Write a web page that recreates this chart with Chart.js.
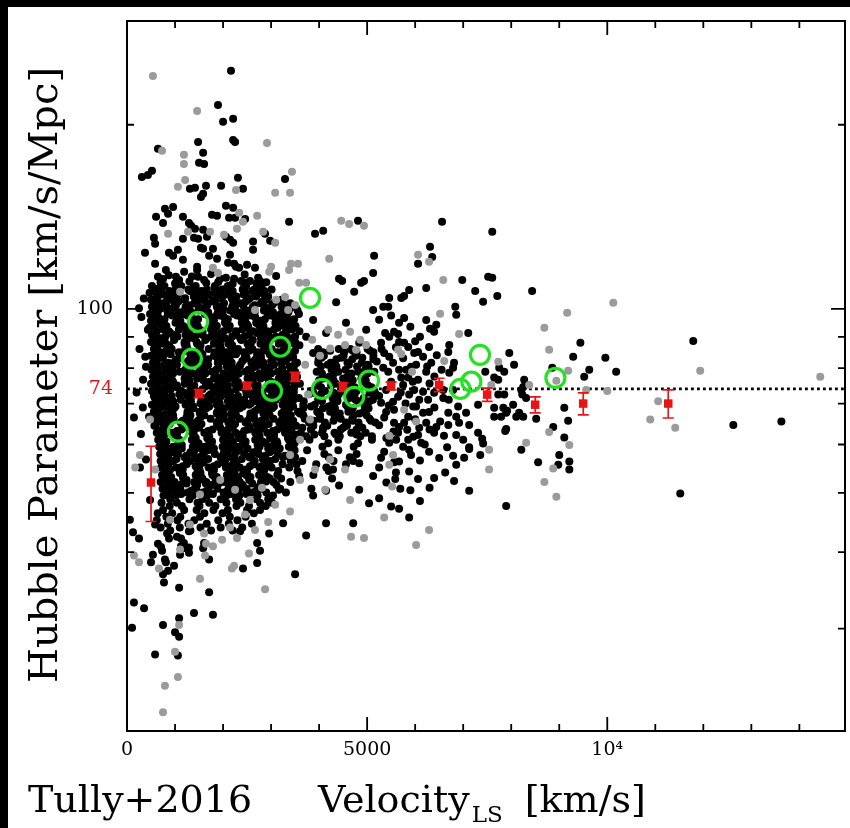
<!DOCTYPE html>
<html>
<head>
<meta charset="utf-8">
<script src="https://cdn.jsdelivr.net/npm/chart.js@4.4.1/dist/chart.umd.min.js"></script>
<style>
  html, body { margin: 0; padding: 0; background: #000; }
  #wrap { position: absolute; left: 8px; top: 7px; width: 842px; height: 821px; background: #fff; }
</style>
</head>
<body>
<div id="wrap"><canvas id="hubble" width="842" height="821"></canvas></div>
<script>
// axis setup
const xMin = 0, xMax = 14950;
const yMin = 20.4, yMax = 295.6;
const xTickVals = [0, 1000, 2000, 3000, 4000, 5000, 6000, 7000, 8000, 9000, 10000, 11000, 12000, 13000, 14000];
const xMajor = [0, 5000, 10000];
const xLabelVals = [0, 5000, 10000];
const xLabels = ['0', '5000', '10\u2074'];
const yTickVals = [30, 40, 50, 60, 70, 74, 80, 90, 100, 200];
const yMajor = [100];
const yLabelVals = [100, 74];
const yLabels = ['100', '74'];
const refH = 74;

// binned means (red squares) with error bars
const binV = [500, 1500, 2500, 3500, 4500, 5500, 6500, 7500, 8500, 9500, 11270];
const binH = [52.0, 72.7, 74.8, 77.4, 74.5, 74.8, 75.1, 72.4, 69.7, 70.0, 70.0];
const binErrHi = [7.6, 1.1, 1.0, 1.3, 1.2, 1.1, 1.9, 1.8, 2.1, 2.9, 3.7];
const binErrLo = [7.1, 1.1, 1.0, 1.3, 1.2, 1.1, 1.9, 1.8, 2.1, 2.9, 3.7];

// green circles
const circV = [3810, 1480, 1350, 3190, 3020, 4060, 4730, 5040, 6940, 7170, 7350, 8920, 1060];
const circH = [104.2, 95.2, 82.9, 86.7, 73.4, 74.0, 71.8, 76.3, 74.0, 76.0, 84.1, 77.1, 63.0];

// dense core of black galaxies, rows of [H, velocities]
const blackRows = [
  [109.0, [520, 780, 1130, 1430, 1830, 2100, 2480, 2800]],
  [107.6, [610, 1010, 1280, 1660, 1980, 2410, 2650, 3010]],
  [106.2, [470, 720, 1090, 1420, 1860, 2120, 2470, 2770]],
  [104.8, [640, 960, 1390, 1630, 1990, 2280, 2690, 2940]],
  [103.5, [500, 940, 1200, 1550, 1850, 2250, 2520, 2900, 3220]],
  [102.1, [700, 990, 1400, 1650, 2020, 2350, 2790, 3050, 3400]],
  [100.8, [520, 820, 1220, 1490, 1870, 2190, 2620, 2860, 3220, 3510]],
  [99.4, [600, 840, 1200, 1490, 1900, 2150, 2520, 2850, 3290, 3550]],
  [98.1, [480, 850, 1180, 1620, 1880, 2230, 2530, 2930, 3200, 3580]],
  [96.9, [650, 1030, 1350, 1780, 2020, 2380, 2670, 3080, 3330]],
  [95.6, [500, 760, 1110, 1410, 1810, 2080, 2460, 2780, 3210, 3450]],
  [94.3, [700, 1100, 1370, 1750, 2070, 2500, 2740, 3100, 3390]],
  [93.1, [470, 790, 1220, 1460, 1820, 2110, 2520, 2770, 3140, 3470]],
  [91.9, [620, 870, 1240, 1570, 2010, 2270, 2620, 2920, 3320, 3590]],
  [90.7, [520, 960, 1220, 1570, 1870, 2270, 2540, 2920, 3240]],
  [89.5, [690, 990, 1390, 1660, 2040, 2360, 2790, 3030, 3390]],
  [88.3, [500, 790, 1200, 1450, 1820, 2150, 2590, 2850, 3200, 3500]],
  [87.2, [640, 880, 1240, 1530, 1940, 2190, 2560, 2890, 3330, 3590]],
  [86.0, [560, 930, 1260, 1700, 1960, 2310, 2610, 3010, 3280, 3980, 4410, 4650, 5010]],
  [84.9, [700, 1080, 1400, 1830, 2070, 2430, 2720, 3130, 3380, 4080, 4520, 4780, 5130]],
  [83.8, [500, 760, 1110, 1410, 1810, 2080, 2460, 2780, 3210, 3450, 4100, 4510, 4760, 5130]],
  [82.7, [640, 1040, 1310, 1690, 2010, 2440, 2680, 3040, 3330, 3990, 4360, 4690, 5130]],
  [81.6, [540, 860, 1290, 1530, 1890, 2180, 2590, 2840, 3210, 3540, 3980, 4240, 4590, 4890]],
  [80.5, [690, 940, 1310, 1640, 2080, 2340, 2690, 2990, 3390, 4040, 4360, 4790, 5030]],
  [79.5, [510, 950, 1210, 1560, 1860, 2260, 2530, 2910, 3230, 4260, 4550, 4960]],
  [78.4, [660, 960, 1360, 1630, 2010, 2330, 2760, 3000, 3360, 4060, 4310, 4680, 5010]],
  [77.4, [540, 830, 1240, 1490, 1860, 2190, 2630, 2890, 3240, 3540, 4210, 4590, 4910]],
  [76.4, [700, 940, 1300, 1590, 2000, 2250, 2620, 2950, 3390, 4000, 4300, 4700, 4970]],
  [75.4, [500, 870, 1200, 1640, 1900, 2250, 2550, 2950, 3220, 3600, 4350, 4590, 4950]],
  [74.4, [660, 1040, 1360, 1790, 2030, 2390, 2680, 3090, 3340, 4040, 4480, 4740, 5090]],
  [73.4, [520, 780, 1130, 1430, 1830, 2100, 2480, 2800, 3230, 3470, 3830, 4120, 4530, 4780, 5150]],
  [72.5, [690, 1090, 1360, 1740, 2060, 2490, 2730, 3090, 3380, 3790, 4040, 4410, 4740, 5180]],
  [71.5, [580, 900, 1330, 1570, 1930, 2220, 2630, 2880, 3250, 3580, 4020, 4280, 4630, 4930]],
  [70.6, [710, 960, 1330, 1660, 2100, 2360, 2710, 3010, 3410, 3680, 4060, 4380, 4810, 5050]],
  [69.7, [520, 960, 1220, 1570, 1870, 2270, 2540, 2920, 3240, 3670, 3910, 4270, 4560, 4970]],
  [68.8, [680, 980, 1380, 1650, 2030, 2350, 2780, 3020, 3380, 3670, 4080, 4330, 4700, 5030]],
  [67.9, [560, 850, 1260, 1510, 1880, 2210, 2650, 2910, 3260, 3560, 3960, 4230, 4610, 4930]],
  [67.0, [720, 960, 1320, 1610, 2020, 2270, 2640, 2970, 3410, 3670, 4020, 4320, 4720, 4990]],
  [66.1, [600, 970, 1300, 1740, 2000, 2350, 2650, 3050, 3320, 3700, 4020, 4450, 4690, 5050]],
  [65.2, [740, 1120, 1440, 1870, 2110, 2470, 2760, 3170, 3420, 3790, 4120, 4560, 4820, 5170]],
  [64.4, [570, 830, 1180, 1480, 1880, 2150, 2530, 2850, 3280, 3520, 3880, 4170, 4580, 4830]],
  [63.5, [730, 1130, 1400, 1780, 2100, 2530, 2770, 3130, 3420, 3830, 4080, 4450, 4780]],
  [62.7, [620, 940, 1370, 1610, 1970, 2260, 2670, 2920, 3290, 3620, 4060, 4320, 4670, 4970]],
  [61.9, [760, 1010, 1380, 1710, 2150, 2410, 2760, 3060, 3460, 3730, 4110, 4430, 4860, 5100]],
  [61.1, [650, 1090, 1350, 1700, 2000, 2400, 2670, 3050, 3370, 3800, 4400, 5100]],
  [60.3, [790, 1090, 1490, 1760, 2140, 2460, 2890, 3130, 3490, 4190, 4810]],
  [59.5, [670, 960, 1370, 1620, 1990, 2320, 2760, 3020, 3370, 4070, 4720]],
  [58.7, [800, 1040, 1400, 1690, 2100, 2350, 2720, 3050, 3490, 3750, 4400]],
  [57.9, [690, 1060, 1390, 1830, 2090, 2440, 2740, 3140, 3410, 4110, 4780]],
  [57.2, [820, 1200, 1520, 1950, 2190, 2550, 2840, 3250, 3500, 4200, 4640]],
  [56.4, [700, 960, 1310, 1610, 2010, 2280, 2660, 2980, 3410, 3650, 4300, 4710]],
  [55.7, [840, 1240, 1510, 1890, 2210, 2640, 2880, 3240, 3530, 3940, 4560]],
  [55.0, [710, 1030, 1460, 1700, 2060, 2350, 2760, 3010, 3380, 4150]],
  [54.3, [850, 1100, 1470, 1800, 2240, 2500, 2850, 3150, 3550, 4200]],
  [53.5, [730, 1170, 1430, 1780, 2080, 2480, 2750, 3130, 3880]],
  [52.8, [870, 1170, 1570, 1840, 2220, 2540, 2970, 3210, 4270]],
  [52.1, [700, 990, 1400, 1650, 2020, 2350, 2790, 3050, 3400]],
  [51.5, [860, 1100, 1460, 1750, 2160, 2410, 2780, 3110]],
  [50.8, [740, 1110, 1440, 1880, 2140, 2490, 2790, 3190, 3840]],
  [50.1, [880, 1260, 1580, 2010, 2250, 2610, 2900, 3310]],
  [49.5, [760, 1020, 1370, 1670, 2070, 2340, 2720, 3040]],
  [48.8, [900, 1300, 1570, 1950, 2270, 2700, 2940]],
  [48.2, [720, 1040, 1470, 1710, 2070, 2360, 2770, 3020]],
  [47.6, [890, 1140, 1510, 1840, 2280, 2540, 2890]],
  [46.9, [750, 1190, 1450, 1800, 2100, 2500, 2770]],
  [46.3, [640, 940, 1610, 1990, 2640]],
  [45.7, [820, 1110, 1520, 2140, 2470]],
  [45.1, [620, 1050, 1400, 1900, 2300]],
  [44.5, [850, 1280, 1660, 2120, 2600]],
  [43.9, [700, 1100, 1530, 1950, 2400]],
  [43.4, [900, 1320, 1750, 2200]]
];

// extra black galaxies filling the crowded core, rows of [H, velocities]
const coreFill = [
  [108.3, [680, 1050, 1380, 1820, 2080, 2430, 2730]],
  [106.9, [560, 880, 1310, 1550, 1910, 2200, 2610, 2860]],
  [105.5, [760, 1060, 1460, 1730, 2110, 2430, 2860]],
  [104.1, [600, 860, 1210, 1510, 1910, 2180, 2560, 2880]],
  [102.8, [820, 1070, 1440, 1770, 2210, 2470, 2820, 3120]],
  [101.4, [620, 1020, 1290, 1670, 1990, 2420, 2660, 3020, 3310]],
  [100.1, [700, 940, 1300, 1590, 2000, 2250, 2620, 2950, 3390]],
  [98.7, [640, 1080, 1340, 1690, 1990, 2390, 2660, 3040, 3360]],
  [97.5, [560, 940, 1260, 1690, 1930, 2290, 2580, 2990, 3240]],
  [96.2, [780, 1070, 1480, 1730, 2100, 2430, 2870, 3130, 3480]],
  [94.9, [640, 1010, 1340, 1780, 2040, 2390, 2690, 3090, 3360]],
  [93.7, [560, 820, 1170, 1470, 1870, 2140, 2520, 2840, 3270, 3510]],
  [92.5, [760, 1080, 1510, 1750, 2110, 2400, 2810, 3060, 3430]],
  [91.3, [600, 900, 1300, 1570, 1950, 2270, 2700, 2940, 3300]],
  [90.1, [800, 1050, 1420, 1750, 2190, 2450, 2800, 3100, 3500]],
  [88.9, [580, 980, 1250, 1630, 1950, 2380, 2620, 2980, 3270]],
  [87.7, [760, 1200, 1460, 1810, 2110, 2510, 2780, 3160, 3480]],
  [86.6, [620, 860, 1220, 1510, 1920, 2170, 2540, 2870, 3310]],
  [85.4, [820, 1200, 1520, 1950, 2190, 2550, 2840, 3250, 3500, 4230, 4700, 5060]],
  [84.3, [620, 910, 1320, 1570, 1940, 2270, 2710, 2970, 3320]],
  [83.2, [740, 1110, 1440, 1880, 2140, 2490, 2790, 3190, 3460, 4050, 4460, 4900]],
  [82.1, [600, 1000, 1270, 1650, 1970, 2400, 2640, 3000, 3290]],
  [81.0, [780, 1040, 1390, 1690, 2090, 2360, 2740, 3060, 3490, 4180, 4620, 5010]],
  [80.0, [560, 880, 1310, 1550, 1910, 2200, 2610, 2860, 3230]],
  [78.9, [800, 1100, 1500, 1770, 2150, 2470, 2900, 3140, 3500, 3950, 4400, 4820, 5150]],
  [77.9, [620, 870, 1240, 1570, 2010, 2270, 2620, 2920, 3320]],
  [76.9, [760, 1200, 1460, 1810, 2110, 2510, 2780, 3160, 3480, 4080, 4500, 4880]],
  [75.9, [580, 960, 1280, 1710, 1950, 2310, 2600, 3010, 3260]],
  [74.9, [800, 1040, 1400, 1690, 2100, 2350, 2720, 3050, 3490, 3960, 4250, 4650, 5020]],
  [73.9, [620, 910, 1320, 1570, 1940, 2270, 2710, 2970, 3320]],
  [72.9, [780, 1180, 1450, 1830, 2150, 2580, 2820, 3180, 3470, 3880, 4300, 4620, 5050]],
  [72.0, [560, 930, 1260, 1700, 1960, 2310, 2610, 3010, 3280]],
  [71.0, [800, 1120, 1550, 1790, 2150, 2440, 2850, 3100, 3470, 3980, 4380, 4760, 5120]],
  [70.1, [620, 880, 1230, 1530, 1930, 2200, 2580, 2900, 3330]],
  [69.2, [760, 1010, 1380, 1710, 2150, 2410, 2760, 3060, 3460, 3830, 4200, 4590, 4950]],
  [68.3, [600, 900, 1300, 1570, 1950, 2270, 2700, 2940, 3300]],
  [67.4, [820, 1260, 1520, 1870, 2170, 2570, 2840, 3220, 3600, 4000, 4430, 4840]],
  [66.5, [640, 880, 1240, 1530, 1940, 2190, 2560, 2890, 3330]],
  [65.6, [780, 1160, 1480, 1910, 2150, 2510, 2800, 3210, 3460, 3890, 4300, 4700, 5080]],
  [64.8, [600, 890, 1300, 1550, 1920, 2250, 2690, 2950, 3300]],
  [63.9, [800, 1170, 1500, 1940, 2200, 2550, 2850, 3250, 3650, 4080, 4500, 4900]],
  [63.1, [640, 1040, 1310, 1690, 2010, 2440, 2680, 3040, 3330]],
  [62.3, [780, 1040, 1390, 1690, 2090, 2360, 2740, 3060, 3490, 3900, 4350, 4780]],
  [61.5, [680, 1000, 1430, 1670, 2030, 2320, 2730, 2980, 3350]],
  [60.7, [820, 1070, 1440, 1770, 2210, 2470, 2820, 3120]],
  [59.9, [700, 1140, 1400, 1750, 2050, 2450, 2720, 3100]],
  [59.1, [840, 1140, 1540, 1810, 2190, 2510, 2940, 3180]],
  [58.3, [720, 960, 1320, 1610, 2020, 2270, 2640, 2970]],
  [57.5, [860, 1240, 1560, 1990, 2230, 2590, 2880, 3290]],
  [56.8, [740, 1030, 1440, 1690, 2060, 2390, 2830, 3090]],
  [56.0, [880, 1250, 1580, 2020, 2280, 2630, 2930]],
  [55.3, [760, 1160, 1430, 1810, 2130, 2560, 2800]],
  [54.6, [900, 1160, 1510, 1810, 2210, 2480, 2860]],
  [53.9, [780, 1100, 1530, 1770, 2130, 2420, 2830]],
  [53.1, [920, 1170, 1540, 1870, 2310, 2570, 2920]],
  [52.5, [800, 1240, 1500, 1850, 2150, 2550, 2820]],
  [51.8, [940, 1240, 1640, 1910, 2290, 2610]],
  [51.1, [820, 1060, 1420, 1710, 2120, 2370, 2740]],
  [50.4, [960, 1340, 1660, 2090, 2330, 2690]],
  [49.8, [840, 1130, 1540, 1790, 2160, 2490]]
];

// scattered black galaxies [velocity, H]
const blackPts = [
  [2165, 245], [1895, 215.5], [2000, 202.2], [2210, 204.5], [1480, 187.5], [2210, 188.9], [2250, 187.5],
  [645, 182.7], [1585, 180], [1500, 173.3], [1605, 172.6], [310, 164.3], [435, 165.6], [520, 168.2],
  [2310, 163.8], [2415, 157.1], [3290, 163.1], [1310, 157.1], [1415, 157.7], [1645, 158.9], [1960, 158.9],
  [1540, 152.4], [1585, 154.2], [3375, 138.8], [3915, 132.7], [4085, 134.2], [4810, 139.3], [5145, 122.1],
  [2060, 147.4], [2210, 146.3], [1770, 142.5], [1875, 142], [2125, 140.9], [2250, 140.9], [2460, 140.3],
  [960, 146.8], [790, 145.8], [855, 143], [605, 141.4], [750, 138.2], [1165, 141.4], [1290, 138.2],
  [1335, 136.7], [1415, 135.2], [1585, 134.7], [560, 130.7], [585, 127.8], [375, 123.5], [1165, 130.2],
  [1395, 130.7], [1480, 130.2], [1665, 131.2], [2060, 131.2], [2145, 129.7], [2210, 128.3], [2625, 128.8],
  [2625, 124.9], [2875, 132.7], [2980, 129.2], [875, 123.5], [960, 122.1], [1060, 124.9], [1540, 125.9],
  [1585, 125.4], [1790, 125.4], [1710, 122.1], [1875, 120.7], [2145, 122.6], [585, 118.5], [1165, 120.3],
  [1460, 117.2], [1460, 115.8], [2105, 119], [2230, 118.5], [2270, 117.2], [2335, 116.7], [2500, 118.1],
  [2665, 116.7], [810, 115.8], [645, 112.8], [750, 111.9], [1020, 112.8], [1085, 111.5], [1190, 115],
  [1480, 112.8], [1605, 111.5], [1940, 112], [2060, 112.4], [2230, 112], [2375, 111.1], [2560, 111.1],
  [2730, 112.4], [2770, 111.1], [3105, 113.2], [4415, 112], [4480, 111.1], [4875, 110.3], [4935, 111.1],
  [5125, 114.5],
  // soft upper edge of the core
  [700, 110.5], [1000, 110.0], [1300, 110.8], [1650, 110.2], [1900, 110.6], [2200, 109.9], [2450, 110.4],
  [2700, 110.0], [870, 113.5], [1350, 113.0], [1750, 114.0], [2450, 113.8], [2900, 110.5],
  // middle velocities
  [6560, 138.8], [7605, 133.7], [6310, 126.3], [6355, 121.6], [6060, 118.5], [6980, 111.5], [7520, 112.8],
  [7605, 112.4], [7250, 106.9], [7710, 105], [7415, 102.7], [8435, 106.9], [6230, 108.2], [5875, 107.4],
  [5770, 105], [5710, 104.2], [5460, 104.2], [5335, 100.8], [5440, 100.8], [6835, 100.8], [6855, 97.8],
  [6230, 95.9], [6310, 92.8], [6395, 91.7], [6440, 94.2], [5665, 94.9], [5770, 96.6], [5560, 91.7],
  [5645, 91.0], [5375, 91.3], [5460, 90.0], [5665, 88.3], [5770, 88.0], [5855, 86.6], [5290, 88.0],
  [5355, 84.7], [5460, 83.5], [5980, 84.7], [6060, 85.0], [6165, 83.5], [6335, 81.6], [6290, 86.6],
  [6710, 87.3], [6690, 85.0], [6810, 81.6], [6790, 80.1], [7105, 91.3], [5540, 81.6], [5665, 79.5],
  [5815, 79.5], [5915, 80.4], [6020, 81.0], [5335, 80.1], [5440, 78.9], [6230, 78.9], [5710, 77.2],
  [5855, 77.2], [6060, 76.6], [6710, 78.6], [7960, 84.7], [8060, 81.0], [7750, 80.1], [7855, 78.9],
  [7645, 77.2], [7730, 76.6], [7460, 78.9], [8270, 76.6], [8250, 74.5], [8210, 73.7], [8230, 72.4],
  [8310, 71.5], [8040, 69.7], [7730, 72.4], [7855, 72.4], [7645, 68.9], [7645, 66.6], [7790, 66.6],
  [7895, 67.6], [7895, 63.6], [8105, 66.6], [8165, 67.6], [8250, 66.6], [7835, 68.9], [8875, 64.1],
  [9105, 68.9], [9185, 65.6], [9290, 83.5], [9440, 88.0], [9520, 77.4], [9625, 79.5], [9960, 83.2],
  [10185, 78.9], [9105, 61.6], [9000, 57.7], [9210, 56.3], [9210, 54.6], [8980, 55.6], [8560, 56.1],
  [8210, 58.8], [7895, 47.6], [7125, 50.4], [5665, 47.1], [5875, 45.6], [6060, 52.7], [5690, 50.8],
  [5585, 52.7], [5875, 54.2], [6395, 52.9], [6625, 54.0], [6810, 52.3], [6855, 55.6], [7020, 57.1],
  [7125, 59.0], [7355, 57.7], [7395, 61.3], [7415, 60.2], [7125, 59.4], [7000, 61.1], [6790, 57.5],
  [6665, 59.4], [6855, 62.2], [6690, 64.6], [6915, 65.1], [7125, 64.6], [7310, 62.7], [6855, 66.6],
  [7060, 67.6], [7310, 69.7], [6395, 62.7], [6290, 58.4], [6230, 65.1], [6440, 64.1], [6060, 62.2],
  [6125, 60.4], [5875, 58.8], [5915, 57.7], [5855, 61.1], [5835, 63.4], [6085, 63.9], [6165, 67.6],
  [6290, 67.8], [6520, 65.4], [6690, 67.6], [6895, 69.2], [6585, 73.7], [6585, 71.5], [6790, 73.7],
  [6395, 72.9], [6270, 71.0], [6165, 73.2], [6085, 71.0], [6020, 69.2], [5960, 69.2], [5855, 66.6],
  [5770, 65.1], [5665, 64.1], [5645, 62.7], [5560, 65.1], [5960, 61.8], [5605, 61.1], [5460, 60.4],
  [5355, 58.4], [5290, 57.1], [5560, 56.1], [5665, 56.3], [5395, 67.8], [5355, 66.4], [5540, 70.5],
  [5560, 68.4], [5290, 70.2], [5875, 72.4], [5645, 71.8], [5750, 75.1], [5980, 73.7], [5395, 73.7],
  [8855, 80.1], [7915, 68.1], [7875, 63.1], [8520, 66.1],
  // crowded area just right of the core
  [5250, 96.0], [5500, 97.5], [5900, 93.5], [6100, 90.0], [5300, 86.0], [5600, 86.5], [6000, 88.5],
  [6450, 84.0], [5200, 82.0], [5750, 83.0], [6250, 80.5], [6550, 79.5], [5500, 76.0], [5950, 76.0],
  [6400, 77.5], [5250, 72.0], [5700, 73.0], [6300, 75.5], [6700, 71.0], [5450, 69.5], [5800, 70.0],
  [6400, 69.0], [5250, 64.5], [5550, 63.0], [6000, 66.0], [6300, 63.5], [6600, 62.0], [5400, 61.5],
  [5750, 59.5], [6200, 60.0], [6500, 57.0], [5250, 55.0], [5600, 54.0], [6100, 56.5], [5400, 52.0],
  [5900, 50.5], [6300, 51.0], [5250, 49.0], [5500, 47.5], [6100, 48.5],
  // high velocities
  [11790, 88.6], [12625, 64.6], [13625, 65.4], [11520, 49.9],
  // upper right of core
  [4355, 102.5], [4730, 106.6], [5125, 99.6], [3875, 95.9], [4145, 91.3], [4560, 94.9], [4980, 92.4],
  [4835, 88.0], [3875, 84.7], [3730, 90.0],
  // left edge
  [250, 100.2], [435, 92.4], [540, 95.2], [335, 76.6], [290, 62.4], [270, 55.0], [395, 56.7],
  [145, 66.4], [460, 66.6], [395, 80.4], [60, 45.2], [480, 48.7], [585, 44.4], [300, 97.0],
  [260, 86.0], [200, 73.0], [330, 69.0], [350, 104.0], [380, 83.5],
  // lower right of core
  [2895, 52.2], [3165, 50.6], [3585, 53.3], [3875, 49.5], [4145, 50.4], [4415, 51.4], [4835, 50.6],
  [5040, 48.1], [4145, 44.6], [4710, 44.6], [3250, 44.6], [2960, 42.9], [3730, 42.6], [5125, 53.3],
  [4835, 55.9], [4290, 54.6],
  // low H tail
  [125, 43.1], [250, 42.1], [645, 41.3], [710, 40.8], [540, 39.6], [500, 38.5], [730, 40.2], [790, 38.9],
  [810, 38.5], [855, 37.3], [750, 36.8], [980, 38.0], [770, 35.7], [835, 42.9], [875, 42.1], [1040, 42.4],
  [1125, 42.1], [1185, 41.4], [1125, 40.9], [1165, 40.6], [1105, 39.6], [1290, 40.7], [1290, 39.9],
  [1290, 43.3], [1585, 40.6], [1605, 41.4], [1710, 38.9], [2355, 43.3], [2710, 41.4], [2770, 40.2],
  [2710, 38.4], [2415, 37.6], [3500, 36.8], [1085, 35.0], [1710, 34.4], [145, 33.1], [355, 32.4],
  [105, 30.1], [750, 30.4], [1085, 31.2], [1395, 31.8], [1790, 31.6], [1000, 29.6], [1085, 29.1],
  [585, 27.2], [1060, 27.1]
];

// grey galaxies [velocity, H]
const grayPts = [
  [540, 240.4], [1460, 210.7], [2915, 186.8], [730, 181.3], [1185, 178.6], [1185, 172.6], [1210, 162.5],
  [1060, 158.3], [2270, 156.5], [3435, 167.5], [3085, 154.8], [3395, 154.8], [2335, 143.6], [2415, 138.8],
  [2710, 142], [4460, 139.3], [4625, 137.7], [4935, 136.7], [855, 132.7], [1270, 133.7], [1730, 133.7],
  [2020, 132.2], [2290, 135.2], [2835, 133.7], [3085, 128.3], [4210, 120.7], [3415, 118.5], [3560, 118.5],
  [3000, 117.2], [3375, 115.8], [1790, 116.7], [1895, 114.5], [2960, 115], [3585, 110.3], [3730, 110.3],
  [6060, 122.6], [6290, 119.4], [6585, 111.5], [9165, 98.5], [10125, 102.3], [6520, 98.2], [6915, 91.0],
  [5645, 85.7], [5710, 84.4], [6605, 82.2], [5935, 78.9], [7730, 81.9], [7585, 75.1], [8375, 75.1],
  [8790, 85.7], [8690, 93.1], [9185, 79.2], [10000, 73.4], [8790, 62.9], [9210, 59.9], [8875, 54.8],
  [8690, 52.1], [8940, 49.3], [6290, 43.5], [6020, 41.1], [5355, 45.6], [5520, 51.2], [7540, 54.6],
  [7540, 58.8], [6020, 65.4], [5460, 62.0], [5540, 57.7], [5460, 55.6], [5770, 68.4], [8310, 60.4],
  [8940, 76.3], [9560, 73.7], [11935, 79.2], [14435, 77.4], [11060, 70.6], [10895, 65.9], [11415, 63.9],
  [3290, 104.6], [3500, 101.5], [3355, 99.6], [3105, 103.5], [4190, 92.4], [4395, 90.7], [4645, 91.7],
  [4855, 89.0], [4540, 87.3], [4230, 86.1], [4770, 85.7], [4980, 87.3], [4020, 83.8], [3855, 89.0],
  [3710, 81.0], [3810, 65.9], [480, 65.9], [270, 57.7], [170, 55.0], [1940, 52.5], [2250, 50.6],
  [2560, 48.7], [2810, 51.0], [3085, 47.8], [2460, 46.1], [2940, 44.8], [3395, 46.6], [3605, 52.5],
  [3915, 54.6], [4230, 56.7], [4540, 54.6], [4125, 50.6], [4645, 48.7], [3395, 57.7], [2665, 43.5],
  [2145, 43.9], [1310, 44.4], [3605, 61.1], [3770, 72.4], [1520, 49.7], [895, 45.2], [585, 54.6],
  [1105, 106.6], [2665, 99.6],
  [1605, 42.9], [1980, 41.9], [2290, 42.2], [145, 39.5], [250, 38.5], [665, 37.6], [1105, 40.4],
  [1645, 41.3], [1790, 40.9], [1625, 39.5], [1520, 36.2], [2185, 37.6], [2230, 38.0], [2540, 39.8],
  [2875, 34.8], [4665, 42.4], [4935, 42.2], [1085, 30.4], [1000, 27.5], [1060, 25.0], [790, 24.2],
  [750, 21.9]
];

const red = 'rgb(232, 20, 20)';
const green = 'rgb(34, 226, 34)';

const toXY = arr => arr.map(([v, h]) => ({ x: v, y: h }));
const rowsToXY = rows => rows.flatMap(([h, vs]) => vs.map(v => ({ x: v, y: h })));
const blackData = rowsToXY(blackRows).concat(rowsToXY(coreFill), toXY(blackPts));

// error bars for the binned means, drawn through the scales
const errorBars = {
  id: 'errorBars',
  afterDatasetDraw(chart, args) {
    if (args.meta.label !== 'bins') return;
    const { ctx, scales: { x, y } } = chart;
    ctx.save();
    ctx.strokeStyle = red;
    ctx.lineWidth = 1.7;
    binV.forEach((v, i) => {
      const px = x.getPixelForValue(v);
      const top = y.getPixelForValue(binH[i] + binErrHi[i]);
      const bot = y.getPixelForValue(binH[i] - binErrLo[i]);
      ctx.beginPath();
      ctx.moveTo(px, top); ctx.lineTo(px, bot);
      ctx.moveTo(px - 5.5, top); ctx.lineTo(px + 5.5, top);
      ctx.moveTo(px - 5.5, bot); ctx.lineTo(px + 5.5, bot);
      ctx.stroke();
    });
    ctx.restore();
  }
};

// box with inward ticks on all sides, plus the axis titles
const frame = {
  id: 'frame',
  afterDraw(chart) {
    const { ctx, chartArea: a, scales: { x, y } } = chart;
    ctx.save();
    ctx.strokeStyle = '#000';
    ctx.lineWidth = 2;
    ctx.strokeRect(a.left, a.top, a.right - a.left, a.bottom - a.top);
    ctx.lineWidth = 1.8;
    ctx.beginPath();
    x.ticks.forEach(t => {
      const px = x.getPixelForValue(t.value);
      const len = xMajor.includes(t.value) ? 14 : 7;
      ctx.moveTo(px, a.bottom); ctx.lineTo(px, a.bottom - len);
      ctx.moveTo(px, a.top); ctx.lineTo(px, a.top + len);
    });
    y.ticks.forEach(t => {
      if (t.value === refH) return;
      const py = y.getPixelForValue(t.value);
      const len = yMajor.includes(t.value) ? 14 : 7;
      ctx.moveTo(a.left, py); ctx.lineTo(a.left + len, py);
      ctx.moveTo(a.right, py); ctx.lineTo(a.right - len, py);
    });
    ctx.stroke();

    ctx.fillStyle = '#000';
    ctx.font = '40px "DejaVu Serif"';
    ctx.save();
    ctx.translate(49, 368);
    ctx.rotate(-Math.PI / 2);
    ctx.textAlign = 'center';
    ctx.textBaseline = 'alphabetic';
    ctx.fillText('Hubble Parameter [km/s/Mpc]', 0, 0);
    ctx.restore();

    ctx.font = '38px "DejaVu Serif"';
    ctx.textAlign = 'left';
    ctx.textBaseline = 'alphabetic';
    ctx.fillText('Tully+2016', 20, 805);
    let cx = 310;
    ctx.fillText('Velocity', cx, 805);
    cx += ctx.measureText('Velocity').width + 2;
    ctx.font = '23px "DejaVu Serif"';
    ctx.fillText('LS', cx, 815);
    cx += ctx.measureText('LS').width + 10;
    ctx.font = '38px "DejaVu Serif"';
    ctx.fillText(' [km/s]', cx, 805);
    ctx.restore();
  }
};

new Chart(document.getElementById('hubble'), {
  type: 'scatter',
  data: {
    datasets: [
      {
        label: 'circles',
        data: circV.map((v, i) => ({ x: v, y: circH[i] })),
        pointRadius: 9.5,
        pointBorderWidth: 3.2,
        pointBorderColor: green,
        pointBackgroundColor: 'rgba(0,0,0,0)',
        order: 1
      },
      {
        label: 'bins',
        data: binV.map((v, i) => ({ x: v, y: binH[i] })),
        pointStyle: 'rect',
        pointRadius: 6,
        pointBorderWidth: 0,
        pointBackgroundColor: red,
        order: 2
      },
      {
        label: 'grey',
        data: toXY(grayPts),
        pointRadius: 4.0,
        pointBorderWidth: 0,
        pointBackgroundColor: '#9b9b9b',
        order: 3
      },
      {
        label: 'black',
        data: blackData,
        pointRadius: 4.0,
        pointBorderWidth: 0,
        pointBackgroundColor: '#000',
        order: 4
      },
      {
        type: 'line',
        label: 'ref',
        data: [{ x: xMin, y: refH }, { x: xMax, y: refH }],
        borderColor: '#000',
        borderWidth: 2.8,
        borderDash: [2.8, 3.2],
        pointRadius: 0,
        order: 5
      }
    ]
  },
  options: {
    responsive: false,
    animation: false,
    events: [],
    layout: { padding: { top: 14, right: 5, left: 0, bottom: 0 }, autoPadding: false },
    plugins: { legend: { display: false }, tooltip: { enabled: false } },
    scales: {
      x: {
        type: 'linear',
        min: xMin,
        max: xMax,
        bounds: 'data',
        afterBuildTicks: s => { s.ticks = xTickVals.map(v => ({ value: v })); },
        afterFit: s => { s.height = 97; s.paddingLeft = 0; s.paddingRight = 0; },
        grid: { display: false, drawTicks: false },
        border: { display: false },
        ticks: {
          autoSkip: false,
          maxRotation: 0,
          padding: 8,
          color: '#000',
          font: { family: 'DejaVu Serif', size: 19 },
          callback: v => { const i = xLabelVals.indexOf(v); return i < 0 ? '' : xLabels[i]; }
        }
      },
      y: {
        type: 'logarithmic',
        min: yMin,
        max: yMax,
        bounds: 'data',
        afterBuildTicks: s => { s.ticks = yTickVals.map(v => ({ value: v })); },
        afterFit: s => { s.width = 119; s.paddingTop = 0; s.paddingBottom = 0; },
        grid: { display: false, drawTicks: false },
        border: { display: false },
        ticks: {
          autoSkip: false,
          padding: 14,
          color: c => (c.tick && c.tick.value === refH ? red : '#000'),
          font: { family: 'DejaVu Serif', size: 19 },
          callback: v => { const i = yLabelVals.indexOf(v); return i < 0 ? '' : yLabels[i]; }
        }
      }
    }
  },
  plugins: [errorBars, frame]
});
</script>
</body>
</html>
